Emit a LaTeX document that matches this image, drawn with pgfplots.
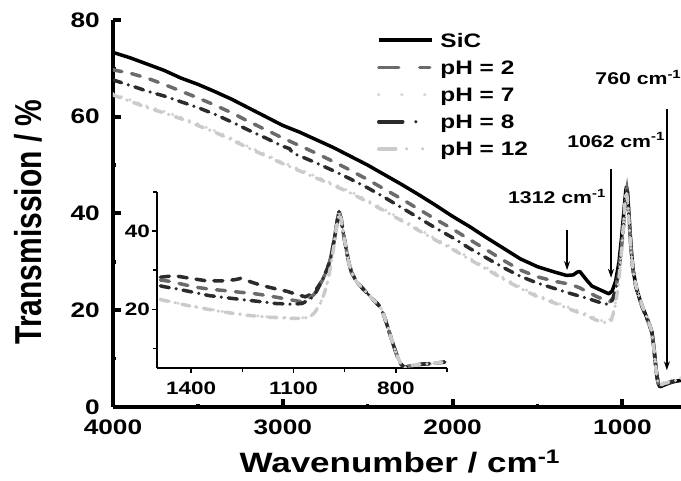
\documentclass[border=0pt]{standalone}
\usepackage{fontspec}
\setmainfont{Liberation Sans}[FakeStretch=1.25]
\newfontfamily\plainfont{Liberation Sans}
\usepackage{graphicx}
\usepackage{pgfplots}
\pgfplotsset{compat=1.18}
\usetikzlibrary{arrows.meta}
\definecolor{cSiC}{HTML}{000000}
\definecolor{cpHtwo}{HTML}{6B6B6B}
\definecolor{cpHseven}{HTML}{D4D4D4}
\definecolor{cpHeight}{HTML}{2B2B2B}
\definecolor{cpHtwelve}{HTML}{CBCBCB}
\pgfplotsset{
  sSiC/.style={cSiC, line width=3.5pt, solid, line join=round},
  spHtwo/.style={cpHtwo, line width=3.5pt, line cap=round, dash pattern=on 9pt off 10pt},
  spHseven/.style={cpHseven, line width=3.5pt, line cap=round, dash pattern=on 0pt off 9pt},
  spHeight/.style={cpHeight, line width=3.5pt, line cap=round, dash pattern=on 9pt off 7pt on 0pt off 7pt},
  spHtwelve/.style={cpHtwelve, line width=3.5pt, line cap=round, dash pattern=on 8pt off 7pt on 0pt off 7pt},
  stop/.style={cpHeight, line width=3.5pt, line cap=round, dash pattern=on 9pt off 9pt},
}
\newcommand\tickfont{\fontsize{21}{21}\selectfont\bfseries}
\newcommand\insetfont{\fontsize{18}{18}\selectfont\bfseries}
\newcommand\annfont{\fontsize{17}{17}\selectfont\bfseries}
\begin{document}
\begin{tikzpicture}[x=1pt,y=1pt]
\useasboundingbox (0,0) rectangle (681,481);
\begin{axis}[
  at={(113pt,74pt)}, anchor=south west, scale only axis,
  width=568pt, height=387pt,
  xmin=655, xmax=4000, x dir=reverse, ymin=0, ymax=80,
  axis x line*=bottom, axis y line*=left,
  axis line style={line width=4pt, -},
  xtick={1000,2000,3000,4000}, minor xtick={1500,2500,3500},
  ytick={0,20,40,60,80}, minor ytick={10,30,50,70},
  tick align=inside, major tick length=8pt, minor tick length=3pt,
  major tick style={black, line width=4pt},
  minor tick style={black, line width=3.5pt},
  /pgf/number format/assume math mode=true,
  /pgf/number format/1000 sep={},
  ticklabel style={font=\tickfont},
  yticklabel style={inner sep=0pt, xshift=-13pt},
  xticklabel style={inner sep=0pt, yshift=-13pt},
  xlabel={Wavenumber / cm\textsuperscript{-1}},
  xlabel style={font=\fontsize{28}{28}\selectfont\bfseries, at={(axis description cs:0.505,-0.1705)}, anchor=base, inner sep=0pt},
  ylabel={\scalebox{1}[1.25]{\plainfont\bfseries\fontsize{30}{30}\selectfont Transmission / \%}},
  ylabel style={at={(axis description cs:-0.1496,0.478)}, anchor=center, inner sep=0pt},
  legend style={at={(axis description cs:0.4648,0.966)}, anchor=north west, draw=none, fill=none,
    inner sep=0pt, outer sep=0pt, row sep=13.2pt, column sep=7pt,
    font=\fontsize{19.5}{19.5}\selectfont\bfseries,
    nodes={inner sep=0pt, text height=14pt, text depth=0pt}},
  legend cell align=left,
  legend image code/.code={\draw[#1] (0pt,0pt) -- (53pt,0pt);},
]
% SiC
\addplot[sSiC, forget plot] coordinates {
(4000,73.3)(3900,72.2)(3800,70.9)(3700,69.6)(3600,68.0)(3500,66.7)(3400,65.2)(3300,63.6)
(3200,61.8)(3100,60.0)(3000,58.2)(2900,56.8)(2800,55.2)(2700,53.6)(2600,51.8)(2500,50.0)
(2400,48.0)(2300,46.0)(2200,43.9)(2100,41.7)(2000,39.4)(1900,37.3)(1800,35.0)(1700,32.8)
(1600,30.6)(1500,29.0)(1400,27.9)(1330,27.2)(1290,27.3)(1265,27.9)(1250,28.0)(1235,27.3)
(1210,26.2)(1180,25.0)(1130,24.2)(1080,23.4)(1060,24.0)(1040,26.0)(1020,30.0)(1005,35.0)
(990,41.0)(980,44.8)(976,45.5)(970,44.5)(960,39.0)(950,33.5)(938,28.5)(920,25.0)(900,22.5)
(880,20.5)(860,18.8)(840,17.0)(826,15.5)(815,12.5)(805,9.0)(797,6.5)(788,4.8)(780,4.2)
(770,4.3)(750,4.6)(720,5.0)(690,5.3)(655,5.5)};
% pH 2
\addplot[spHtwo, forget plot] coordinates {
(4000,69.7)(3900,69.0)(3800,68.0)(3700,66.7)(3600,65.3)(3500,63.9)(3400,62.4)(3300,60.8)
(3200,59.0)(3100,57.3)(3000,55.6)(2900,54.0)(2800,52.4)(2700,50.7)(2600,48.9)(2500,47.0)
(2400,45.0)(2300,43.0)(2200,40.9)(2100,38.8)(2000,36.8)(1900,34.6)(1800,32.5)(1700,30.3)
(1600,28.3)(1500,26.9)(1400,26.0)(1300,25.3)(1250,24.6)(1200,23.7)(1150,22.8)(1100,22.1)
(1075,21.7)(1055,22.6)(1035,25.2)(1015,29.8)(1000,34.8)(988,40.0)(978,44.2)(974,45.0)
(968,43.2)(958,37.5)(948,32.0)(936,27.8)(920,24.8)(900,22.3)(880,20.4)(860,18.6)(840,16.8)
(826,15.3)(815,12.3)(805,8.8)(797,6.3)(788,4.7)(780,4.3)(770,4.5)(750,4.8)(720,5.1)(690,5.4)(655,5.6)};
% pH 7
\addplot[spHseven, forget plot] coordinates {
(4000,64.8)(3900,63.5)(3800,62.2)(3700,61.1)(3600,59.9)(3500,58.5)(3400,57.1)(3300,55.5)
(3200,53.8)(3100,52.2)(3000,50.6)(2900,49.1)(2800,47.6)(2700,46.1)(2600,44.5)(2500,42.7)
(2400,40.8)(2300,38.8)(2200,36.8)(2100,34.8)(2000,32.9)(1900,30.8)(1800,28.8)(1700,26.7)
(1600,24.8)(1500,23.1)(1400,21.8)(1300,20.4)(1200,19.0)(1130,17.9)(1090,17.7)(1065,18.3)
(1045,20.6)(1025,25.1)(1008,31.3)(993,38.3)(982,43.8)(977,44.8)(970,43.1)(960,37.8)
(950,32.8)(938,28.5)(922,25.6)(902,23.1)(882,21.1)(862,19.3)(842,17.5)(828,16.0)(817,13.1)
(807,9.6)(799,7.1)(790,5.3)(782,4.7)(770,4.9)(750,5.2)(720,5.5)(690,5.8)(655,6.0)};
% pH 8
\addplot[spHeight, forget plot] coordinates {
(4000,67.6)(3900,66.5)(3800,65.3)(3700,64.3)(3600,63.1)(3500,61.9)(3400,60.5)(3300,58.9)
(3200,57.2)(3100,55.6)(3000,53.9)(2960,53.4)(2940,52.4)(2900,51.9)(2800,50.4)(2700,48.8)
(2600,47.1)(2500,45.3)(2400,43.3)(2300,41.2)(2200,39.1)(2100,37.0)(2000,35.0)(1900,32.8)
(1800,30.8)(1700,28.8)(1600,27.0)(1500,25.6)(1400,24.5)(1300,23.4)(1200,22.4)(1150,21.8)
(1100,21.3)(1075,21.2)(1055,22.4)(1035,25.0)(1015,29.8)(1000,34.8)(988,40.0)(978,44.2)
(974,45.0)(968,43.2)(958,37.5)(948,32.0)(936,27.8)(920,24.8)(900,22.3)(880,20.4)(860,18.6)
(840,16.8)(826,15.3)(815,12.3)(805,8.8)(797,6.3)(788,4.7)(780,4.3)(770,4.5)(750,4.8)
(720,5.1)(690,5.4)(655,5.6)};
% pH 12
\addplot[spHtwelve, forget plot] coordinates {
(4000,64.5)(3900,63.2)(3800,61.9)(3700,60.8)(3600,59.6)(3500,58.2)(3400,56.8)(3300,55.2)
(3200,53.5)(3100,51.9)(3000,50.3)(2900,48.8)(2800,47.3)(2700,45.8)(2600,44.2)(2500,42.4)
(2400,40.5)(2300,38.5)(2200,36.5)(2100,34.5)(2000,32.6)(1900,30.5)(1800,28.5)(1700,26.4)
(1600,24.5)(1500,22.8)(1400,21.5)(1300,20.1)(1200,18.7)(1130,17.6)(1090,17.4)(1065,18.0)
(1045,20.3)(1025,24.8)(1008,31.0)(993,38.0)(982,43.5)(977,44.5)(970,42.8)(960,37.5)
(950,32.5)(938,28.2)(922,25.3)(902,22.8)(882,20.8)(862,19.0)(842,17.2)(828,15.7)(817,12.8)
(807,9.3)(799,6.8)(790,5.0)(782,4.4)(770,4.6)(750,4.9)(720,5.2)(690,5.5)(655,5.7)};
% legend
\addlegendimage{cSiC, line width=3.5pt, solid}
\addlegendentry{SiC}
\addlegendimage{cpHtwo, line width=3.5pt, line cap=round, dash pattern=on 20pt off 21pt on 10pt off 20pt}
\addlegendentry{pH = 2}
\addlegendimage{cpHseven, line width=3.5pt, line cap=round, dash pattern=on 0pt off 23pt}
\addlegendentry{pH = 7}
\addlegendimage{cpHeight, line width=3.5pt, line cap=round, dash pattern=on 24pt off 13pt on 0pt off 20pt}
\addlegendentry{pH = 8}
\addlegendimage{cpHtwelve, line width=3.5pt, line cap=round, dash pattern=on 17pt off 11pt on 0pt off 16pt on 0pt off 20pt}
\addlegendentry{pH = 12}
% annotations
\draw[-{Stealth[length=9pt,width=6pt]}, line width=1.2pt] (axis cs:1326,36.6) -- (axis cs:1326,28.3);
\draw[-{Stealth[length=9pt,width=6pt]}, line width=1.2pt] (axis cs:1067,49.2) -- (axis cs:1067,26.7);
\draw[-{Stealth[length=9pt,width=6pt]}, line width=1.2pt] (axis cs:738,61.6) -- (axis cs:738,7.6);
\node[anchor=base west, inner sep=0pt, font=\annfont] at (axis cs:1674,42.0) {1312 cm\textsuperscript{-1}};
\node[anchor=base west, inner sep=0pt, font=\annfont] at (axis cs:1326,53.7) {1062 cm\textsuperscript{-1}};
\node[anchor=base west, inner sep=0pt, font=\annfont] at (axis cs:1160,66.6) {760 cm\textsuperscript{-1}};
\end{axis}
\begin{axis}[
  at={(157pt,113pt)}, anchor=south west, scale only axis,
  width=290pt, height=176pt,
  xmin=650, xmax=1500, x dir=reverse, ymin=5, ymax=50,
  axis x line*=bottom, axis y line*=left,
  axis line style={line width=1.5pt, -},
  xtick={800,1100,1400}, minor xtick={650,950,1250},
  ytick={20,40}, minor ytick={10,30,50},
  tick align=outside, major tick length=5pt, minor tick length=4pt,
  major tick style={black, line width=1.5pt},
  minor tick style={black, line width=1.5pt},
  /pgf/number format/assume math mode=true,
  /pgf/number format/1000 sep={},
  ticklabel style={font=\insetfont},
  yticklabel style={inner sep=0pt, xshift=-2pt},
  xticklabel style={inner sep=0pt, yshift=-9pt},
]
\addplot[stop] coordinates {
(1490,28.2)(1450,28.6)(1400,27.9)(1356,27.3)(1300,27.3)(1270,27.6)(1255,27.9)(1235,27.3)
(1193,26.1)(1150,25.2)(1119,24.6)(1090,23.8)(1065,23.2)(1045,24.0)(1030,25.5)(1015,27.5)
(1000,30.5)(990,33.5)(980,38.0)(972,42.5)(966,45.2)(960,43.0)(953,39.0)(946,35.7)(938,32.0)
(930,29.5)(915,27.0)(900,25.6)(885,24.2)(870,22.8)(855,21.5)(845,20.5)(835,18.5)(825,15.8)
(815,13.0)(805,10.3)(795,7.8)(785,6.0)(775,5.1)(760,5.5)(740,5.8)(720,6.0)(700,6.1)(680,6.3)(657,6.5)};
\addplot[spHtwo] coordinates {
(1490,27.5)(1459,27.1)(1420,26.3)(1382,25.6)(1340,25.1)(1302,24.8)(1260,24.4)(1213,24.0)
(1170,23.4)(1131,22.8)(1100,22.3)(1080,22.0)(1060,22.4)(1040,23.8)(1030,25.0)(1015,27.5)
(1000,30.5)(990,33.5)(980,38.0)(972,42.5)(966,45.2)(960,43.0)(953,39.0)(946,35.7)(938,32.0)
(930,29.5)(915,27.0)(900,25.6)(885,24.2)(870,22.8)(855,21.5)(845,20.5)(835,18.5)(825,15.8)
(815,13.0)(805,10.3)(795,7.8)(785,6.0)(775,5.1)(760,5.5)(740,5.8)(720,6.0)(700,6.1)(680,6.3)(657,6.5)};
\addplot[spHseven] coordinates {
(1490,22.6)(1480,22.4)(1412,21.1)(1350,20.1)(1296,19.3)(1240,18.6)(1175,18.1)(1104,17.8)
(1075,17.8)(1051,18.1)(1035,19.6)(1021,21.6)(1010,24.1)(1000,27.1)(990,31.6)(980,37.1)
(972,42.1)(967,44.6)(960,43.0)(953,39.0)(946,35.7)(938,32.0)(930,29.5)(915,27.0)(900,25.6)
(885,24.2)(870,22.8)(855,21.5)(845,20.5)(835,18.5)(825,15.8)(815,13.0)(805,10.3)(795,7.8)
(785,6.0)(775,5.1)(760,5.5)(740,5.8)(720,6.0)(700,6.1)(680,6.3)(657,6.5)};
\addplot[spHeight] coordinates {
(1490,26.0)(1480,25.8)(1435,25.1)(1390,24.3)(1347,23.5)(1300,23.0)(1252,22.5)(1200,22.0)
(1154,21.5)(1101,21.3)(1075,21.5)(1050,22.6)(1035,24.2)(1015,27.5)(1000,30.5)(990,33.5)
(980,38.0)(972,42.5)(966,45.2)(960,43.0)(953,39.0)(946,35.7)(938,32.0)(930,29.5)(915,27.0)
(900,25.6)(885,24.2)(870,22.8)(855,21.5)(845,20.5)(835,18.5)(825,15.8)(815,13.0)(805,10.3)
(795,7.8)(785,6.0)(775,5.1)(760,5.5)(740,5.8)(720,6.0)(700,6.1)(680,6.3)(657,6.5)};
\addplot[spHtwelve] coordinates {
(1490,22.5)(1480,22.3)(1412,21.0)(1350,20.0)(1296,19.2)(1240,18.5)(1175,18.0)(1104,17.7)
(1075,17.7)(1051,18.0)(1035,19.5)(1021,21.5)(1010,24.0)(1000,27.0)(990,31.5)(980,37.0)
(972,42.0)(967,44.5)(960,43.0)(953,39.0)(946,35.7)(938,32.0)(930,29.5)(915,27.0)(900,25.6)
(885,24.2)(870,22.8)(855,21.5)(845,20.5)(835,18.5)(825,15.8)(815,13.0)(805,10.3)(795,7.8)
(785,6.0)(775,5.1)(760,5.5)(740,5.8)(720,6.0)(700,6.1)(680,6.3)(657,6.5)};
\end{axis}
\end{tikzpicture}
\end{document}
